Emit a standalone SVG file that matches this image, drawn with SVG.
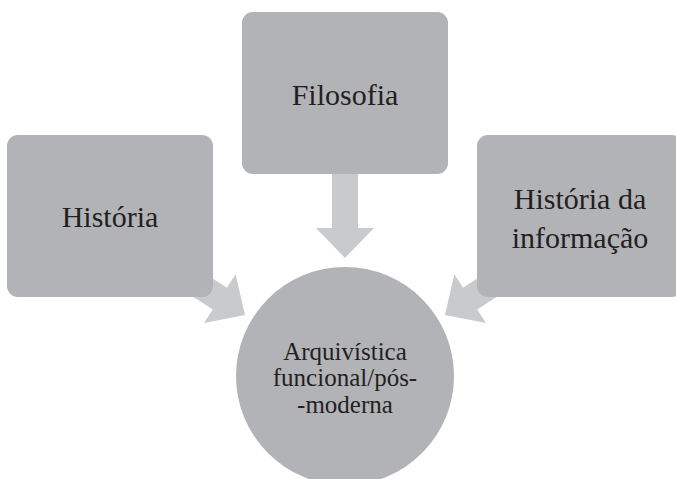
<svg xmlns="http://www.w3.org/2000/svg" width="676" height="479" viewBox="0 0 676 479">
<defs>
<style>
.box{fill:#b2b3b6;}
.arr{fill:#c9cacc;}
.lbl{font-family:"Liberation Serif",serif;font-size:30px;fill:#231f20;text-anchor:middle;}
.sm{font-size:25px;}
</style>
<path id="arrow" d="M0,0 L-30,-29 L-30,-13 L-84,-13 L-84,13 L-30,13 L-30,29 Z"/>
</defs>
<rect width="676" height="479" fill="#ffffff"/>
<g id="connectors">
<use href="#arrow" class="arr" transform="translate(345,258) rotate(90)"/>
<use href="#arrow" class="arr" transform="translate(245,315) rotate(33)"/>
<use href="#arrow" class="arr" transform="translate(445,315) rotate(147)"/>
</g>
<g id="filosofia">
<rect class="box" x="242" y="12" width="206" height="162" rx="11"/>
<text class="lbl" x="345" y="105">Filosofia</text>
</g>
<g id="historia">
<rect class="box" x="7" y="135" width="206" height="162" rx="11"/>
<text class="lbl" x="110" y="227">História</text>
</g>
<g id="historia-informacao">
<rect class="box" x="477" y="135" width="206" height="162" rx="11"/>
<text class="lbl" x="580" y="209">História da</text>
<text class="lbl" x="580" y="248">informação</text>
</g>
<g id="arquivistica">
<circle class="box" cx="345" cy="376" r="109"/>
<text class="lbl sm" x="345" y="360">Arquivística</text>
<text class="lbl sm" x="345" y="386">funcional/pós-</text>
<text class="lbl sm" x="345" y="413">-moderna</text>
</g>
</svg>
